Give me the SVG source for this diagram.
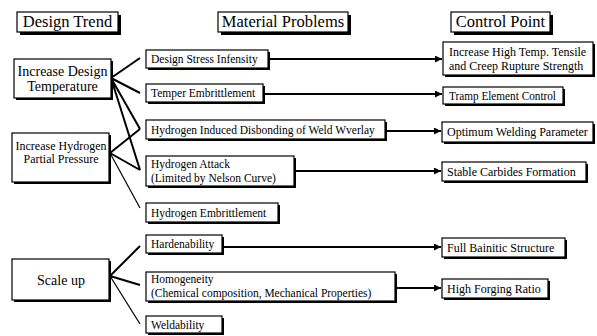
<svg xmlns="http://www.w3.org/2000/svg" width="597" height="336" viewBox="0 0 597 336" font-family="'Liberation Serif', 'DejaVu Serif', serif">
<style>
.h{font-size:16.5px}
.l{font-size:14px}
.m{font-size:11.5px}
.p{font-size:12px}
.r{font-size:12px}
.box{fill:#fff;stroke:#000;stroke-width:1.2}
.sh{fill:#000}
.c{stroke:#000;stroke-width:2;fill:none}
.t{stroke:#000;stroke-width:1.2;fill:none}
</style>
<defs>
<marker id="a" viewBox="0 0 10 10" refX="10" refY="5" markerWidth="9" markerHeight="7" markerUnits="userSpaceOnUse" orient="auto"><path d="M0,0L10,5L0,10z" fill="#000"/></marker>
</defs>
<rect width="597" height="336" fill="#fff"/>
<g id="hdr-trend"><rect class="sh" x="20" y="15" width="101" height="20"/><rect class="box" x="17" y="12" width="101" height="20"/><text class="h" x="67.5" y="27" text-anchor="middle">Design Trend</text></g>
<g id="hdr-problems"><rect class="sh" x="221" y="15" width="130" height="20"/><rect class="box" x="218" y="12" width="130" height="20"/><text class="h" x="283" y="27" text-anchor="middle">Material Problems</text></g>
<g id="hdr-control"><rect class="sh" x="454" y="15" width="99" height="20"/><rect class="box" x="451" y="12" width="99" height="20"/><text class="h" x="500.5" y="27" text-anchor="middle">Control Point</text></g>

<g id="connectors">
<path class="c" d="M111,78L140,58M111,78L140,93M111,78L140,129M111,78L140,170"/>
<path class="c" d="M110,153L140,129M110,153L140,170"/>
<path class="t" d="M110,153L140,208"/>
<path class="c" d="M110,276L140,246M110,276L140,285"/>
<path class="t" d="M110,276L140,324"/>
<path class="c" marker-end="url(#a)" d="M268,59H442"/>
<path class="c" marker-end="url(#a)" d="M264,94H442"/>
<path class="c" marker-end="url(#a)" d="M385,131H441"/>
<path class="c" marker-end="url(#a)" d="M294,171H441"/>
<path class="c" marker-end="url(#a)" d="M222,247H441"/>
<path class="c" marker-end="url(#a)" d="M395,288H441"/>
</g>

<g id="n-design-temp"><rect class="sh" x="16" y="61" width="97" height="39"/><rect class="box" x="14" y="59" width="97" height="39"/><text class="l" x="62.5" y="76" text-anchor="middle">Increase Design</text><text class="l" x="62.5" y="91" text-anchor="middle">Temperature</text></g>
<g id="n-hydrogen-pressure"><rect class="sh" x="14" y="135" width="97" height="49"/><rect class="box" x="12" y="133" width="97" height="49"/><text class="p" x="61" y="150" text-anchor="middle">Increase Hydrogen</text><text class="p" x="61" y="163" text-anchor="middle">Partial Pressure</text></g>
<g id="n-scale-up"><rect class="sh" x="14" y="261" width="97" height="41"/><rect class="box" x="12" y="259" width="97" height="41"/><text class="l" x="61" y="285" text-anchor="middle">Scale up</text></g>

<g id="m-stress"><rect class="sh" x="148" y="52" width="122" height="18"/><rect class="box" x="146" y="50" width="122" height="18"/><text class="m" x="151" y="63">Design Stress Infensity</text></g>
<g id="m-temper"><rect class="sh" x="148" y="86" width="117" height="18"/><rect class="box" x="146" y="84" width="117" height="18"/><text class="m" x="151" y="97">Temper Embrittlement</text></g>
<g id="m-disbonding"><rect class="sh" x="148" y="122" width="239" height="19"/><rect class="box" x="146" y="120" width="239" height="19"/><text class="m" x="151" y="134">Hydrogen Induced Disbonding of Weld Wverlay</text></g>
<g id="m-attack"><rect class="sh" x="148" y="158" width="148" height="30"/><rect class="box" x="146" y="156" width="148" height="30"/><text class="m" x="151" y="168">Hydrogen Attack</text><text class="m" x="151" y="182">(Limited by Nelson Curve)</text></g>
<g id="m-embrittlement"><rect class="sh" x="148" y="205" width="132" height="19"/><rect class="box" x="146" y="203" width="132" height="19"/><text class="m" x="151" y="217">Hydrogen Embrittlement</text></g>
<g id="m-hardenability"><rect class="sh" x="148" y="237" width="76" height="18"/><rect class="box" x="146" y="235" width="76" height="18"/><text class="m" x="151" y="248">Hardenability</text></g>
<g id="m-homogeneity"><rect class="sh" x="148" y="274" width="249" height="29"/><rect class="box" x="146" y="272" width="249" height="29"/><text class="m" x="151" y="283">Homogeneity</text><text class="m" x="151" y="297">(Chemical composition, Mechanical Properties)</text></g>
<g id="m-weldability"><rect class="sh" x="148" y="318" width="76" height="17"/><rect class="box" x="146" y="316" width="76" height="17"/><text class="m" x="151" y="329">Weldability</text></g>

<g id="r-strength"><rect class="sh" x="445" y="44" width="150" height="33"/><rect class="box" x="443" y="42" width="150" height="33"/><text class="r" x="449" y="56">Increase High Temp. Tensile</text><text class="r" x="449" y="70">and Creep Rupture Strength</text></g>
<g id="r-tramp"><rect class="sh" x="445" y="89" width="120" height="17"/><rect class="box" x="443" y="87" width="120" height="17"/><text class="r" x="449" y="100" textLength="107" lengthAdjust="spacingAndGlyphs">Tramp Element Control</text></g>
<g id="r-welding"><rect class="sh" x="444" y="124" width="151" height="20"/><rect class="box" x="442" y="122" width="151" height="20"/><text class="r" x="447" y="136">Optimum Welding Parameter</text></g>
<g id="r-carbides"><rect class="sh" x="444" y="164" width="144" height="19"/><rect class="box" x="442" y="162" width="144" height="19"/><text class="r" x="447" y="176">Stable Carbides Formation</text></g>
<g id="r-bainitic"><rect class="sh" x="444" y="240" width="123" height="19"/><rect class="box" x="442" y="238" width="123" height="19"/><text class="r" x="447" y="252">Full Bainitic Structure</text></g>
<g id="r-forging"><rect class="sh" x="444" y="281" width="106" height="19"/><rect class="box" x="442" y="279" width="106" height="19"/><text class="r" x="447" y="293">High Forging Ratio</text></g>
</svg>
